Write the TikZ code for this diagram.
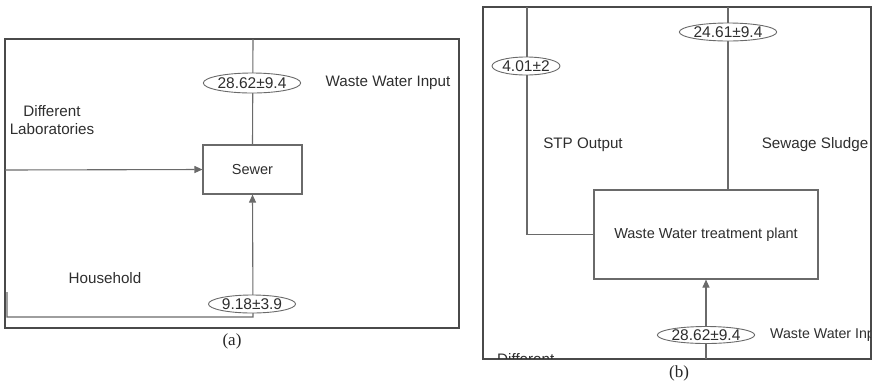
\documentclass[tikz,border=0pt]{standalone}
\usepackage{fontspec}
\setmainfont{Liberation Sans}
\newfontfamily\capfont{Liberation Serif}
\usetikzlibrary{shapes.geometric,arrows.meta}
\definecolor{framegray}{HTML}{4A4A4A}
\definecolor{linegray}{HTML}{6A6A6A}
\definecolor{textgray}{HTML}{2E2E2E}
\begin{document}
\begin{tikzpicture}[x=1pt,y=-1pt,
  frame/.style={draw=framegray, line width=1.6pt},
  flow/.style={draw=linegray, line width=1.1pt},
  arr/.style={flow, -{Triangle[length=8pt,width=7pt]}},
  box/.style={draw=linegray, line width=1.1pt, fill=white, inner sep=0pt, text=textgray,
    font=\fontsize{14.5}{17}\selectfont},
  val/.style={ellipse, draw=linegray, line width=0.9pt, fill=white, inner sep=0pt,
    text=textgray, font=\fontsize{15.5}{17}\selectfont},
  lbl/.style={text=textgray, font=\fontsize{15.2}{18}\selectfont, inner sep=0pt},
  captext/.style={text=black!85, font=\capfont\fontsize{17}{19}\selectfont, inner sep=0pt}
]
\useasboundingbox (0,0) rectangle (877,384);

% ---------- panel (a) ----------
\draw[frame] (5,39) rectangle (459,328);
\node[box, minimum width=99pt, minimum height=49pt] (sewer) at (252.5,169.5) {Sewer};
\coordinate (topA) at (253,39);
\coordinate (labsIn) at (5,170);
\coordinate (hhA) at (7,292);
\coordinate (hhB) at (253,317);
\draw[flow] (topA) -- (sewer.north);
\draw[arr] (labsIn) -- (sewer.west);
\draw[arr] (hhA) |- (hhB) -- (sewer.south);
\node[val, minimum width=96pt, minimum height=20pt] (vwin) at (252,83) {28.62±9.4};
\node[val, minimum width=87pt, minimum height=18pt] (vhh) at (252,304) {9.18±3.9};
\node[lbl] (lwin) at (388,83) {Waste Water Input};
\node[lbl, align=center] (llabs) at (52,120) {Different\\Laboratories};
\node[lbl] (lhh) at (105,278) {Household};
\node[captext] (capa) at (232,341) {(a)};

% ---------- panel (b) ----------
\draw[frame] (483,7) rectangle (871,359);
\node[box, minimum width=224pt, minimum height=89pt] (wwtp) at (706,234.5) {Waste Water treatment plant};
\coordinate (stpTop) at (527,7);
\coordinate (slTop) at (728,7);
\coordinate (wwIn) at (706,359);
\draw[flow] (stpTop) |- (wwtp.west);
\draw[flow] (slTop) -- (slTop |- wwtp.north);
\draw[arr] (wwIn) -- (wwtp.south);
\node[val, minimum width=68pt, minimum height=18pt] (vstp) at (526,66) {4.01±2};
\node[val, minimum width=88pt, minimum height=18pt] (vsl) at (728,32) {24.61±9.4};
\node[val, minimum width=86pt, minimum height=17pt] (vwin2) at (706,335) {28.62±9.4};
\node[lbl] (lstp) at (583,145) {STP Output};
\node[lbl] (lsl) at (815,145) {Sewage Sludge};
\begin{scope}
  \clip (483,7) rectangle (870,358.5);
  \node[lbl, anchor=west, font=\fontsize{14.2}{17}\selectfont] (lwin2) at (770,335) {Waste Water Input};
  \node[lbl, anchor=north west] (ldiff) at (497,353) {Different};
\end{scope}
\node[captext] (capb) at (679,373) {(b)};
\end{tikzpicture}
\end{document}
